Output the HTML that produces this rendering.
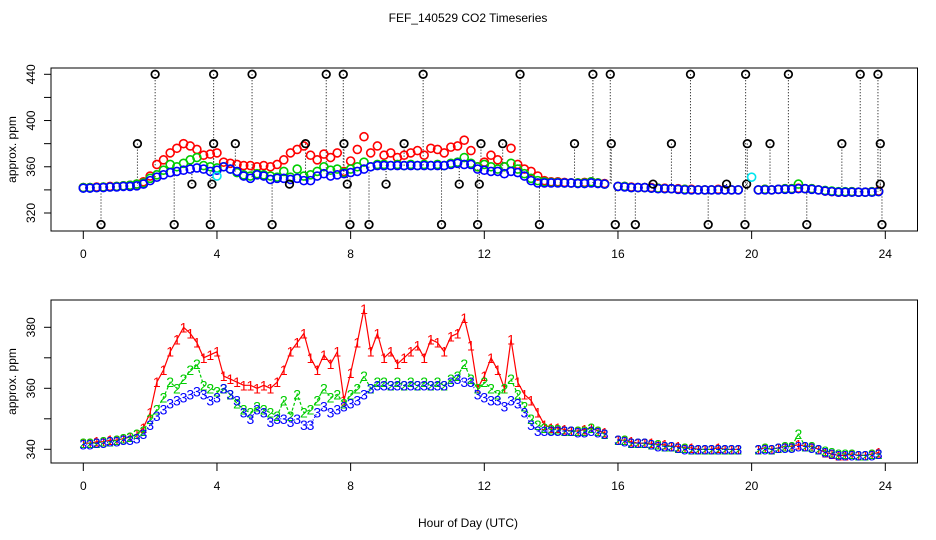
<!DOCTYPE html>
<html><head><meta charset="utf-8"><style>
body{margin:0;background:#fff}
svg{display:block;font-family:"Liberation Sans",sans-serif}
</style></head><body>
<svg id="c" width="936" height="540" xmlns="http://www.w3.org/2000/svg">
<text x="468" y="22" text-anchor="middle" font-size="12">FEF_140529  CO2 Timeseries</text>
<text x="468" y="527" text-anchor="middle" font-size="12">Hour of Day (UTC)</text>
</svg>
<script>
const hours = [0,4,8,12,16,20,24];
const ticksTop = [320,340,360,380,400,420,440];
const labelsTop = [320,360,400,440];
const ticksBot = [340,350,360,370,380];
const labelsBot = [340,360,380];
const step = 0.2;
const red = [342,342,342.5,342.5,343,343,343.5,344,345,347,
352,362,366,372,376,380,378,375,370,371,
372,364,363,362,361,361,360,361,360,362,
366,372,375,378,370,366,371,368,372,356,
365,375,386,372,378,370,372,368,370,372,
374,370,376,375,372,377,378,383,374,360,
364,370,366,360,376,362,358,356,352,348,
347,347,346.5,346,346,346.5,347,346,345.5,null,
343,343,342.5,342,342,342,341.5,341.5,341,341,
340.5,340.5,340,340,340,340.5,340,340,340,null,
null,340,340.5,340,340.5,341,341,341.5,341,341,
340,339,338.5,338,338,338.5,338,338,338.5,339,null];
const green = [342,342,342,342.5,342.5,343,343.5,344,345,346,
350,353,357,362,360,363,366,368,361,360,
359,360,358,355,353,352,354,353,352,351,
356,351,358,352,353,356,360,357,358,355,
358,360,364,360,362,362,361,362,361,362,
361,362,361,362,361,363,364,368,363,360,
362,360,358,360,363,358,354,350,348,347,
346.5,346.5,346,346,346,346,347,346,345,null,
343,343,342,342,342,341.5,341.5,341,341,340.5,
340.5,340,340,340,340,340,340,340,340,null,
null,340,340.5,340,340.5,341,341,345,341,341,
340,339.5,339,338.5,338.5,338.5,338,338,338.5,338.5,null];
const blue = [341.5,341.5,342,342,342.5,342.5,343,343,343.5,345,
348,351,353,355,356,357,358,359,358,356,
357,360,358,356,352,350,353,352,349,350,
350,349,350,348,348,352,354,352,353,354,
355,356,358,360,361,361,361,361,361,361,
361,361,361,361,361,362,363,362,362,358,
357,356,356,354,356,355,352,348,346,346,
346,346,346,346,345.5,345.5,346,345.5,345,null,
343,342.5,342,342,342,341.5,341,341,341,340.5,
340,340,340,340,340,340,340,340,340,null,
null,340,340,340,340.5,340.5,340.5,341,341,340.5,
340,339,338.5,338,338,338,338,338,338,338.5,null];
const outT = [2.15,3.9,5.05,7.27,7.78,10.17,13.07,15.25,15.77,18.17,19.82,21.1,23.25,23.78,
1.62,3.9,4.55,6.65,7.8,9.6,11.9,12.55,14.7,15.8,17.6,19.87,20.55,22.7,23.85,
3.25,3.85,6.17,7.9,9.06,11.25,11.85,17.05,19.25,19.85,23.85,
0.53,2.72,3.8,5.65,7.98,8.55,10.72,11.8,13.65,15.92,16.52,18.7,19.8,21.65,23.9];
const outV = [440,440,440,440,440,440,440,440,440,440,440,440,440,440,
380,380,380,380,380,380,380,380,380,380,380,380,380,380,380,
345,345,345,345,345,345,345,345,345,345,345,
310,310,310,310,310,310,310,310,310,310,310,310,310,310,310];
const cyanT = [4.0,20.0];
const cyanV = [352,351];

const svg = document.getElementById('c');
const NS = 'http://www.w3.org/2000/svg';
function mk(tag, attrs, parent){const e=document.createElementNS(NS,tag);for(const k in attrs)e.setAttribute(k,attrs[k]);(parent||svg).appendChild(e);return e;}
const X0=51,X1=917.5;
const xs = h => 83.3 + h*(885.3-83.3)/24;
const yTop = v => 213 - (v-320)*(213-74.3)/120;
const yBot = v => 449.3 - (v-340)*(449.3-327.3)/40;

function frame(top,bot,ys,ticks,labels,name){
  const g=mk('g',{});
  
  
  const b=mk('rect',{x:X0,y:top,width:X1-X0,height:bot-top,fill:'none',stroke:'#000','stroke-width':1},g);
  
  
  mk('line',{x1:xs(0),x2:xs(24),y1:bot,y2:bot,stroke:'#000'},g);
  hours.forEach(h=>{
    mk('line',{x1:xs(h),x2:xs(h),y1:bot,y2:bot+8,stroke:'#000'},g);
    const t=mk('text',{x:xs(h),y:bot+27,'text-anchor':'middle','font-size':12},g);
    t.textContent=h;
    
    
  });
  mk('line',{x1:X0,x2:X0,y1:ys(ticks[0]),y2:ys(ticks[ticks.length-1]),stroke:'#000'},g);
  ticks.forEach(v=>mk('line',{x1:X0,x2:X0-7,y1:ys(v),y2:ys(v),stroke:'#000'},g));
  labels.forEach(v=>{
    const t=mk('text',{x:0,y:0,'text-anchor':'middle','font-size':12,transform:`translate(35,${ys(v)}) rotate(-90)`},g);
    t.textContent=v;
    
    
  });
  const yt=mk('text',{x:0,y:0,'text-anchor':'middle','font-size':12,transform:`translate(16,${(top+bot)/2}) rotate(-90)`},g);
  yt.textContent='approx. ppm';
  
  
}
frame(68,231,yTop,ticksTop,labelsTop,'top-panel');
frame(300,463,yBot,ticksBot,labelsBot,'bottom-panel');

outT.forEach((t,i)=>{
  const idx=Math.min(120,Math.round(t/step));
  let base=blue[idx]; if(base==null) base=blue[idx-1]!=null?blue[idx-1]:340;
  const l=mk('line',{x1:xs(t),x2:xs(t),y1:yTop(outV[i]),y2:yTop(base),stroke:'#000','stroke-dasharray':'1,2'});
  
  
});
function circles(arr,col,name){
  arr.forEach((v,i)=>{ if(v==null) return;
    const c=mk('circle',{cx:xs(i*step),cy:yTop(v),r:4,fill:'none',stroke:col,'stroke-width':1.6});
    
    
  });
}
circles(red,'#ff0000','red-point');
circles(green,'#00cd00','green-point');
circles(blue,'#0000ff','blue-point');
outT.forEach((t,i)=>{
  const c=mk('circle',{cx:xs(t),cy:yTop(outV[i]),r:3.8,fill:'none',stroke:'#000','stroke-width':1.7});
  
  
});
cyanT.forEach((t,i)=>{
  const c=mk('circle',{cx:xs(t),cy:yTop(cyanV[i]),r:4,fill:'none',stroke:'#00e5ee','stroke-width':1.6});
  
  
});

function series(arr,col,lab,dash,name){
  let d='',pen=false;
  arr.forEach((v,i)=>{ if(v==null){pen=false;return;}
    d+=(pen?'L':'M')+xs(i*step).toFixed(1)+','+yBot(v).toFixed(1); pen=true; });
  const p=mk('path',{d:d,fill:'none',stroke:col,'stroke-width':1.2,'stroke-dasharray':dash});
  
  
  arr.forEach((v,i)=>{ if(v==null) return;
    const t=mk('text',{x:xs(i*step),y:yBot(v)+5,'text-anchor':'middle','font-size':14,fill:col});
    t.textContent=lab;
    
    
  });
}
series(red,'#ff0000','1','none','red-series');
series(green,'#00cd00','2','3,2','green-series');
series(blue,'#0000ff','3','1,2','blue-series');
</script>
</body></html>
